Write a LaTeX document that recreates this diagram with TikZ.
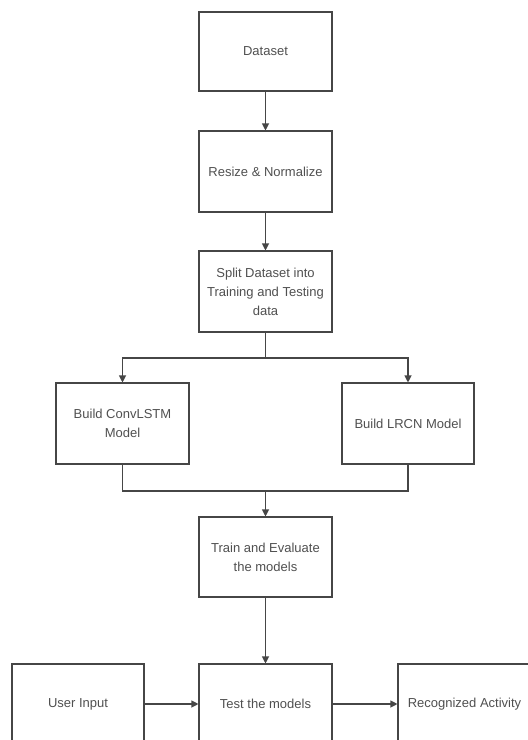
\documentclass[tikz,border=0pt]{standalone}
\usepackage{fontspec}
\setmainfont{Liberation Sans}
\usetikzlibrary{arrows.meta}
\definecolor{txtc}{RGB}{80,80,80}
\definecolor{linec}{RGB}{70,70,70}
\begin{document}
\begin{tikzpicture}[x=1pt,y=-1pt,
  box/.style={draw=linec,line width=1.1pt,minimum width=133pt,minimum height=80pt,
    inner sep=2pt,align=center,text=txtc,font=\fontsize{13}{19}\selectfont},
  conn/.style={draw=linec,line width=1.1pt},
  arr/.style={conn,-{Triangle[length=7pt,width=7pt]}}]
\useasboundingbox (0,0) rectangle (528,740);
\clip (0,0) rectangle (528,740);
\fill[white] (0,0) rectangle (528,740);
\node[box,minimum height=79pt] (data) at (265.5,51.5) {Dataset};
\node[box,minimum height=81pt] (resize) at (265.5,171.5) {Resize \& Normalize};
\node[box,minimum height=81pt] (split) at (265.5,291.5) {Split Dataset into\\Training and Testing\\data};
\node[box,minimum height=81pt] (conv) at (122.5,423.5) {Build ConvLSTM\\Model};
\node[box,minimum width=132pt,minimum height=81pt] (lrcn) at (408,423.5) {Build LRCN Model};
\node[box] (train) at (265.5,557) {Train and Evaluate\\the models};
\node[box] (test) at (265.5,704) {Test the models};
\node[box,minimum width=132pt] (user) at (78,704) {User Input};
\node[box,minimum width=133pt] (recog) at (464.5,704) {Recognized Activity};
\coordinate (s1) at (265.5,358);
\coordinate (sl) at (122.5,358);
\coordinate (sr) at (408,358);
\coordinate (m1) at (265.5,491);
\coordinate (ml) at (122.5,491);
\coordinate (mr) at (408,491);
\draw[arr] (data) -- (resize);
\draw[arr] (resize) -- (split);
\draw[conn] (split) -- (s1);
\draw[arr] (s1) -- (sl) -- (conv);
\draw[arr] (s1) -- (sr) -- (lrcn);
\draw[conn] (conv) -- (ml) -- (mr) -- (lrcn);
\draw[arr] (m1) -- (train);
\draw[arr] (train) -- (test);
\draw[arr] (user) -- (test);
\draw[arr] (test) -- (recog);
\end{tikzpicture}
\end{document}
